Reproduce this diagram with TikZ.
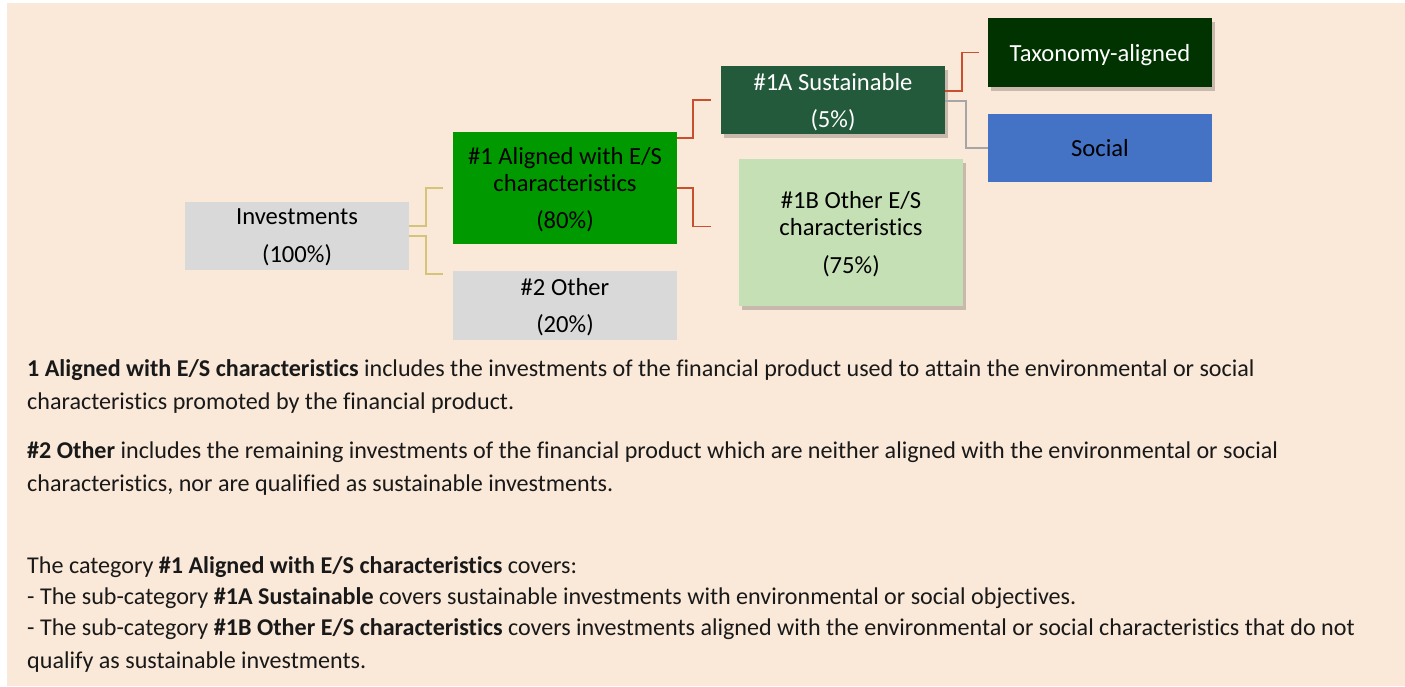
\documentclass[tikz,border=0pt]{standalone}
\usepackage{fontspec}
\setmainfont{Carlito}[Ligatures=NoCommon]
\usetikzlibrary{shadows}
\definecolor{peach}{HTML}{FAE8D8}
\definecolor{boxgray}{HTML}{D9D9D9}
\definecolor{midgreen}{HTML}{009900}
\definecolor{susgreen}{HTML}{245A3C}
\definecolor{taxgreen}{HTML}{003300}
\definecolor{socblue}{HTML}{4472C4}
\definecolor{lightgreen}{HTML}{C5E0B4}
\definecolor{redline}{HTML}{C8502E}
\definecolor{goldline}{HTML}{D4C47A}
\definecolor{grayline}{HTML}{A6A6A6}
\tikzset{
  every node/.style={font=\fontsize{24.1}{27}\selectfont},
  catbox/.style={inner sep=0pt, minimum width=224pt, align=center, anchor=center, text depth=0pt,
    font=\fontsize{24.6}{27}\selectfont},
  shadowed/.style={drop shadow={shadow xshift=3pt, shadow yshift=-4pt, opacity=0.2, fill=black}},
  conn/.style={line width=1.6pt},
  bodyline/.style={anchor=base west, inner sep=0pt, text=black!90},
}
\begin{document}
\begin{tikzpicture}[x=1pt,y=-1pt]
\useasboundingbox (0,0) rectangle (1405,686);
\fill[peach] (7,3) rectangle (1405,686);

\node[catbox, fill=boxgray, minimum height=68pt] (inv) at (297,236) {Investments\\[11pt](100\%)};
\node[catbox, fill=midgreen, minimum height=112pt] (a1) at (565,188) {\#1 Aligned with E/S\\characteristics\\[10pt](80\%)};
\node[catbox, fill=boxgray, minimum height=69pt] (o2) at (565,305.5) {\#2 Other\\[10pt](20\%)};
\node[catbox, shadowed, fill=susgreen, text=white, minimum height=68pt] (s1a) at (833,100) {\#1A Sustainable\\[10pt](5\%)};
\node[catbox, shadowed, fill=lightgreen, minimum height=147pt] (o1b) at (851,232.5) {\#1B Other E/S\\characteristics\\[11pt](75\%)};
\node[catbox, shadowed, fill=taxgreen, text=white, minimum height=69pt] (tax) at (1100,52.5) {Taxonomy-aligned};
\node[catbox, fill=socblue, minimum height=68pt] (soc) at (1100,148) {Social};

% connectors
\draw[conn, goldline] ([yshift=10pt]inv.east) -- ++(17,0) |- ([xshift=-10pt]a1.west);
\draw[conn, goldline] (inv.east) -- ++(17,0) |- ([xshift=-10pt,yshift=-3pt]o2.north west);
\draw[conn, redline] ([yshift=-6pt]a1.north east) -- ++(16,0) |- ([xshift=-10pt]s1a.west);
\draw[conn, redline] (a1.east) -- ++(16,0) |- ([xshift=-28pt,yshift=6pt]o1b.west);
\draw[conn, redline] ([yshift=9pt]s1a.east) -- ++(17,0) |- ([xshift=-9pt]tax.west);
\draw[conn, grayline] ([yshift=-1pt]s1a.east) -- ++(21,0) |- (soc.west);

% explanatory text
\node[bodyline] (t1) at (27,376) {\textbf{1 Aligned with E/S characteristics} includes the investments of the financial product used to attain the environmental or social};
\node[bodyline] (t2) at (27,409) {characteristics promoted by the financial product.};
\node[bodyline] (t3) at (27,458) {\textbf{\#2 Other} includes the remaining investments of the financial product which are neither aligned with the environmental or social};
\node[bodyline] (t4) at (27,491) {characteristics, nor are qualified as sustainable investments.};
\node[bodyline] (t5) at (27,573) {The category \textbf{\#1 Aligned with E/S characteristics} covers:};
\node[bodyline] (t6) at (27,604) {- The sub-category \textbf{\#1A Sustainable} covers sustainable investments with environmental or social objectives.};
\node[bodyline] (t7) at (27,635) {- The sub-category \textbf{\#1B Other E/S characteristics} covers investments aligned with the environmental or social characteristics that do not};
\node[bodyline] (t8) at (27,668) {qualify as sustainable investments.};
\end{tikzpicture}
\end{document}
